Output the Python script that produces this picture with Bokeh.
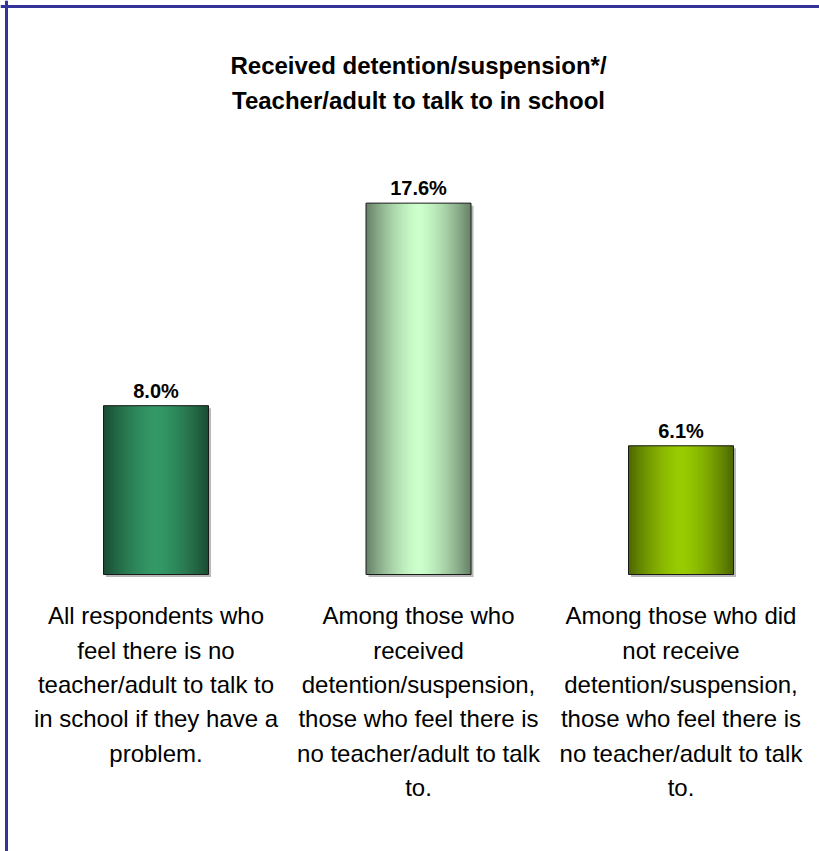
import numpy as np
from bokeh.plotting import figure
from bokeh.models import ColumnDataSource, Span, Label
from bokeh.core.properties import value
from bokeh.embed import file_html
from bokeh.resources import INLINE

# ---- data ----
title_lines = ["Received detention/suspension*/", "Teacher/adult to talk to in school"]
categories = [
    "All respondents who\nfeel there is no\nteacher/adult to talk to\nin school if they have a\nproblem.",
    "Among those who\nreceived\ndetention/suspension,\nthose who feel there is\nno teacher/adult to talk\nto.",
    "Among those who did\nnot receive\ndetention/suspension,\nthose who feel there is\nno teacher/adult to talk\nto.",
]
values = [8.0, 17.6, 6.1]
value_labels = ["8.0%", "17.6%", "6.1%"]
base_colors = ["#339966", "#CCFFCC", "#99CC00"]

# ---- layout constants (canvas pixels) ----
W, H = 819, 851
PX_PER_CAT = 262.5
PX_PER_UNIT = 21.1
X0_PX = 155.5      # canvas px of first category centre
BASE_PX = 574      # canvas px of the value-axis zero
BAR_W = 0.4
FONT = "Liberation Sans"
BASELINE_FIX = 0.4  # svg text shift, in em

x_start = -X0_PX / PX_PER_CAT
x_end = (W - X0_PX) / PX_PER_CAT
y_end = BASE_PX / PX_PER_UNIT
y_start = (BASE_PX - H) / PX_PER_UNIT


def ydata(canvas_y):
    return (BASE_PX - canvas_y) / PX_PER_UNIT


p = figure(width=W, height=H, x_range=(x_start, x_end), y_range=(y_start, y_end),
           output_backend="svg", toolbar_location=None, min_border=0,
           x_axis_location=None, y_axis_location=None)
p.grid.visible = False
p.outline_line_color = None
p.background_fill_color = "white"
p.border_fill_color = "white"

idx = list(range(len(values)))

# shadow
sx = 2.5 / PX_PER_CAT
sy = 2.5 / PX_PER_UNIT
p.vbar(x=[i + sx for i in idx], width=BAR_W, top=[v - sy for v in values],
       bottom=-sy, fill_color="#b8b8b8", line_color=None)


# gradient strips (layered so that no seams show)
def hex_to_rgb(h):
    h = h.lstrip("#")
    return np.array([int(h[k:k + 2], 16) for k in (0, 2, 4)], dtype=float)


N = 60
step = BAR_W / N
ls, rs, tops, cols = [], [], [], []
for i, (v, c) in enumerate(zip(values, base_colors)):
    base = hex_to_rgb(c)
    left0 = i - BAR_W / 2
    for k in range(N):
        t = (k + 0.5) / N
        d = min(1.0, abs(t - 0.5) * 2.0) ** 1.5
        rgb = base * (1 - 0.5 * d)
        ls.append(left0 + k * step)
        rs.append(min(left0 + BAR_W, left0 + (k + 2) * step))
        tops.append(v)
        cols.append("#%02x%02x%02x" % tuple(int(round(q)) for q in rgb))
strips = ColumnDataSource(dict(left=ls, right=rs, top=tops, color=cols))
p.quad(left="left", right="right", top="top", bottom=0, source=strips,
       fill_color="color", line_color=None)

# outline
p.vbar(x=idx, top=values, bottom=0, width=BAR_W, fill_color=None,
       line_color="#1a1a1a", line_width=1)

# value labels
VAL_FS = 20
p.text(x=idx, y=[v + (7 + BASELINE_FIX * VAL_FS) / PX_PER_UNIT for v in values],
       text=value_labels, text_font=value(FONT), text_font_style="bold",
       text_font_size=f"{VAL_FS}px", text_align="center",
       text_baseline="alphabetic", text_color="black")

# category labels, one line at a time
CAT_FS = 24
lx, ly, lt = [], [], []
for i, lab in enumerate(categories):
    for j, line in enumerate(lab.split("\n")):
        lx.append(i)
        ly.append(ydata(625 + 34.3 * j - BASELINE_FIX * CAT_FS))
        lt.append(line)
p.text(x=lx, y=ly, text=lt, text_font=value(FONT), text_font_size=f"{CAT_FS}px",
       text_align="center", text_baseline="alphabetic", text_color="black")

# title
TITLE_FS = 24
for j, line in enumerate(title_lines):
    p.add_layout(Label(x=1.0, y=ydata(75 + 35 * j - BASELINE_FIX * TITLE_FS),
                       text=line, text_font=FONT, text_font_style="bold",
                       text_font_size=f"{TITLE_FS}px", text_align="center",
                       text_baseline="alphabetic", text_color="black"))

# frame border (left & top visible)
p.add_layout(Span(location=x_start + 6 / PX_PER_CAT, dimension="height",
                  line_color="#333399", line_width=3))
p.add_layout(Span(location=y_end - 6 / PX_PER_UNIT, dimension="width",
                  line_color="#333399", line_width=3))

open("out.html", "w").write(file_html(p, INLINE))
